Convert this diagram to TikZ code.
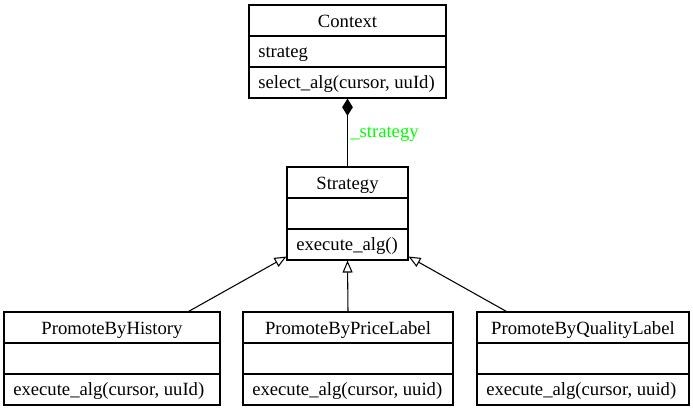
\documentclass[tikz,border=0pt]{standalone}
\usepackage{fontspec}
\setmainfont{Liberation Serif}
\usetikzlibrary{arrows.meta,calc}
\definecolor{labgreen}{RGB}{0,255,0}
\tikzset{
  classbox/.style={draw=black, line width=0.8pt, inner sep=0pt, fill=none},
  txt/.style={inner sep=0pt, font=\fontsize{14}{17}\selectfont},
  divider/.style={draw=black, line width=0.8pt},
  composition/.style={draw=black, line width=0.8pt, -{Diamond[length=13pt,width=8pt,fill=black]}},
  inherit/.style={draw=black, line width=0.8pt, -{Triangle[open,length=9pt,width=7.5pt,fill=white]}},
  rolelabel/.style={txt, text=labgreen}
}
% name, x1, y1, x2, y2, title, attribute, method
\newcommand{\umlbox}[8]{%
  \node[classbox, minimum width={(#4-#2)*0.75pt}, minimum height={(#5-#3)*0.75pt}]
    (#1) at ({(#2+#4)/2},{(#3+#5)/2}) {};
  \draw[divider] ({#2},{#3+31}) -- ({#4},{#3+31});
  \draw[divider] ({#2},{#3+62}) -- ({#4},{#3+62});
  \node[txt, anchor=base] (#1-title) at ({(#2+#4)/2},{#3+22}) {#6};
  \node[txt, anchor=base west] (#1-attr) at ({#2+9},{#3+52.5}) {#7};
  \node[txt, anchor=base west] (#1-meth) at ({#2+9},{#3+83.5}) {#8};
}
\begin{document}
\begin{tikzpicture}[x=0.75pt, y=-0.75pt]
  \useasboundingbox (0,0) rectangle (693,411);
  \umlbox{context}{249}{5}{446}{98}{Context}{strateg}{select\_alg(cursor, uuId)}
  \umlbox{strategy}{287}{167}{408}{260}{Strategy}{}{execute\_alg()}
  \umlbox{history}{4}{312}{220}{405}{PromoteByHistory}{}{execute\_alg(cursor, uuId)}
  \umlbox{price}{243}{312}{453}{405}{PromoteByPriceLabel}{}{execute\_alg(cursor, uuid)}
  \umlbox{quality}{477}{312}{689}{405}{PromoteByQualityLabel}{}{execute\_alg(cursor, uuid)}

  \draw[composition] (strategy.north) -- (context.south);
  \node[rolelabel, anchor=base west] (rolelab) at (350,137) {\_strategy};

  \draw[inherit] ($(history.north east)+(-32,0)$) -- ($(strategy.south west)+(0,-4)$);
  \draw[inherit] (price.north) -- (strategy.south);
  \draw[inherit] ($(quality.north west)+(30,0)$) -- ($(strategy.south east)+(0,-4)$);
\end{tikzpicture}
\end{document}
